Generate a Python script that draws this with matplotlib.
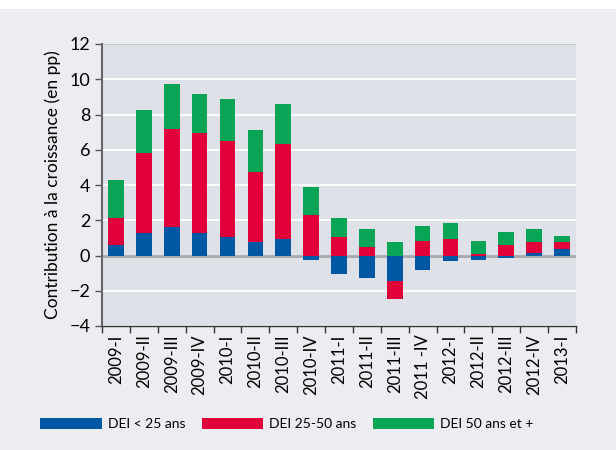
import numpy as np
import matplotlib.pyplot as plt
from matplotlib.patches import Rectangle

quarters = ['2009-I', '2009-II', '2009-III', '2009-IV', '2010-I', '2010-II',
            '2010-III', '2010-IV', '2011-I', '2011-II', '2011-III', '2011 -IV',
            '2012-I', '2012-II', '2012-III', '2012-IV', '2013-I']
dei_moins25 = [0.57, 1.26, 1.60, 1.30, 1.04, 0.74, 0.96, -0.23, -1.07, -1.30,
               -1.43, -0.85, -0.34, -0.23, -0.17, 0.16, 0.36]
dei_25_50 = [1.58, 4.57, 5.59, 5.66, 5.47, 4.01, 5.38, 2.32, 1.04, 0.51,
             -1.06, 0.81, 0.96, 0.06, 0.62, 0.58, 0.38]
dei_50plus = [2.15, 2.43, 2.55, 2.21, 2.37, 2.38, 2.26, 1.58, 1.11, 1.02,
              0.79, 0.89, 0.91, 0.79, 0.74, 0.79, 0.39]
series_names = ['DEI < 25 ans', 'DEI 25-50 ans', 'DEI 50 ans et +']
colors = ['#0057a4', '#e2003a', '#0aa457']

plt.rcParams['font.family'] = ['Lato', 'DejaVu Sans']

fig = plt.figure(figsize=(6.16, 4.5), dpi=100)
fig.patch.set_facecolor('white')
# panel background
fig.patches.append(Rectangle((0, 0), 1, 1 - 9 / 450, transform=fig.transFigure,
                             facecolor='#ecedf1', edgecolor='none', zorder=-10))

ax = fig.add_axes([102 / 616, 1 - 326 / 450, (576 - 102) / 616, (326 - 44) / 450])
ax.set_facecolor('#dfe1e9')

x = np.arange(len(quarters))
w = 0.56
pos_base = np.zeros(len(x))
neg_base = np.zeros(len(x))
for vals, c, name in zip([dei_moins25, dei_25_50, dei_50plus], colors, series_names):
    v = np.array(vals)
    bottom = np.where(v >= 0, pos_base, neg_base)
    ax.bar(x, v, w, bottom=bottom, color=c, label=name, zorder=3)
    pos_base = pos_base + np.where(v >= 0, v, 0)
    neg_base = neg_base + np.where(v < 0, v, 0)

ax.set_ylim(-4, 12)
ax.set_xlim(-0.5, len(x) - 0.5)
ax.set_yticks(range(-4, 13, 2))
ax.yaxis.grid(True, color='white', linewidth=1.3, zorder=0)
ax.axhline(0, color='#a7a8ac', linewidth=2, zorder=2)
ax.axhline(12, color='#c8c9cd', linewidth=1.5, zorder=2)

ax.set_xticks(x)
ax.set_xticklabels(quarters, rotation=90, fontsize=12)
ax.set_xticks(np.arange(-0.5, len(x), 1), minor=True)
ax.tick_params(axis='x', which='major', length=0, pad=6)
ax.tick_params(axis='x', which='minor', length=5, width=1, color='#333333')
ax.tick_params(axis='y', labelsize=13, length=5, width=1, color='#555555')

for s in ['top', 'right']:
    ax.spines[s].set_visible(False)
ax.spines['left'].set_color('#666666')
ax.spines['left'].set_linewidth(1.5)
ax.spines['bottom'].set_color('#333333')
ax.spines['bottom'].set_linewidth(1)

ax.set_ylabel('Contribution à la croissance (en pp)', fontsize=12.5, labelpad=6)

fig.legend(loc='center', bbox_to_anchor=(0.466, 1 - 424 / 450), ncol=3, frameon=False,
           fontsize=10, handlelength=4.45, handleheight=0.8, columnspacing=1.15,
           handletextpad=0.43)

fig.savefig('out.png', dpi=100, facecolor=fig.get_facecolor())
